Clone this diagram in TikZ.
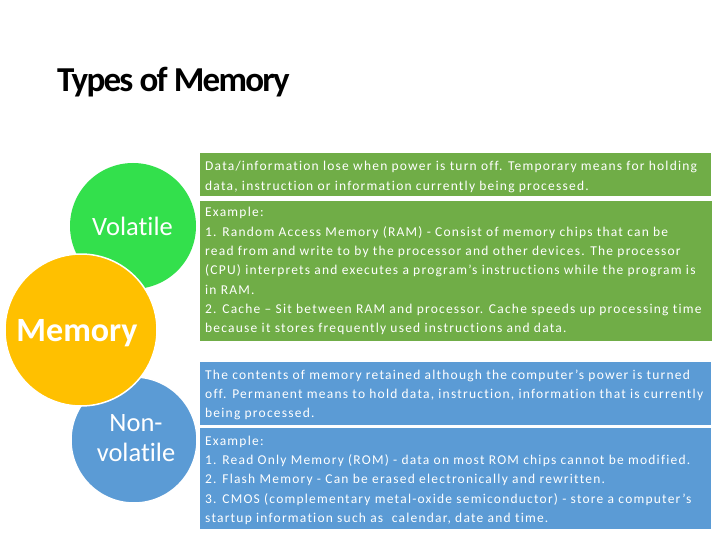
\documentclass[tikz,border=0pt]{standalone}
\usepackage{fontspec}
\setmainfont{Carlito}[Ligatures=NoCommon]
\newfontfamily\boxfont[LetterSpace=9,Ligatures=NoCommon]{Carlito}
\newfontfamily\titlefont[LetterSpace=-5]{Carlito}
\definecolor{cgreen}{RGB}{51,224,76}
\definecolor{corange}{RGB}{255,192,0}
\definecolor{cblue}{RGB}{91,155,213}
\definecolor{bgreen}{RGB}{112,173,71}
\tikzset{
  bubble/.style={circle, inner sep=0pt, draw=white, line width=1.5pt},
  panel/.style={rectangle, inner sep=0pt, anchor=north west, draw=none},
  paneltext/.style={anchor=north west, inner sep=0pt, align=left, text=white,
     font=\boxfont\fontsize{13.5}{19.37}\selectfont},
  bubbletext/.style={text=white, inner sep=0pt, align=center,
     font=\fontsize{26.5}{30}\selectfont}
}
\newcommand{\firstline}{\rule{0pt}{11pt}}
\begin{document}
\begin{tikzpicture}[x=1pt,y=-1pt]
\useasboundingbox (0,0) rectangle (720,540);
\fill[white] (0,0) rectangle (720,540);
% title
\node[anchor=base west, inner sep=0pt, font=\titlefont\bfseries\fontsize{35}{40}\selectfont] (title) at (57,92) {Types of Memory};
% circles
\node[bubble, fill=cgreen, draw=none, minimum size=126pt] (vol) at (133,226) {};
\node[bubble, fill=cblue, minimum size=126pt] (nonvol) at (134,440) {};
\node[bubble, fill=corange, minimum size=152pt] (mem) at (81,330) {};
\node[bubbletext, anchor=base] (voltxt) at (132.5,236) {Volatile};
\node[bubbletext, anchor=base, font=\bfseries\fontsize{34}{38}\selectfont] (memtxt) at (77,341) {Memory};
\node[bubbletext, anchor=north] (nonvoltxt) at (136,411.7) {\rule{0pt}{20pt}Non-\\volatile};
% panels
\node[panel, fill=bgreen, minimum width=511pt, minimum height=43pt] (p1) at (200,153) {};
\node[panel, fill=bgreen, minimum width=512pt, minimum height=140pt] (p2) at (200,201) {};
\node[panel, fill=cblue, minimum width=511pt, minimum height=63pt] (p3) at (200,362) {};
\node[panel, fill=cblue, minimum width=511pt, minimum height=101pt] (p4) at (200,428) {};
\node[paneltext] (t1) at (205,159.5) {\firstline Data/information lose when power is turn off. Temporary means for holding\\data, instruction or information currently being processed.};
\node[paneltext] (t2) at (205,205.5) {\firstline Example:\\1. Random Access Memory (RAM) - Consist of memory chips that can be\\read from and write to by the processor and other devices. The processor\\(CPU) interprets and executes a program’s instructions while the program is\\in RAM.\\2. Cache – Sit between RAM and processor. Cache speeds up processing time\\because it stores frequently used instructions and data.};
\node[paneltext] (t3) at (205,368) {\firstline The contents of memory retained although the computer’s power is turned\\off. Permanent means to hold data, instruction, information that is currently\\being processed.};
\node[paneltext] (t4) at (205,434) {\firstline Example:\\1. Read Only Memory (ROM) - data on most ROM chips cannot be modified.\\2. Flash Memory - Can be erased electronically and rewritten.\\3. CMOS (complementary metal-oxide semiconductor) - store a computer’s\\startup information such as\ \ calendar, date and time.};
\end{tikzpicture}
\end{document}
